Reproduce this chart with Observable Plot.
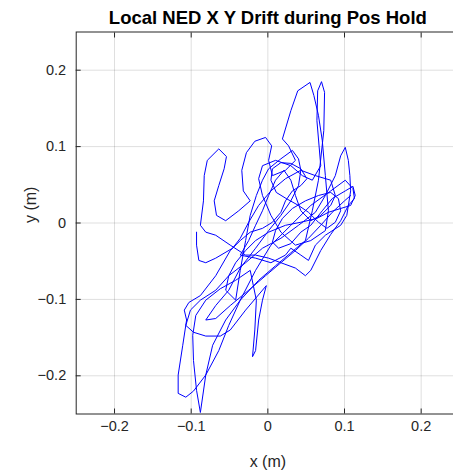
<!DOCTYPE html>
<html>
<head>
<meta charset="utf-8">
<script src="https://cdn.jsdelivr.net/npm/d3@7"></script>
<script src="https://cdn.jsdelivr.net/npm/@observablehq/plot@0.6"></script>
<style>
  html, body { margin: 0; padding: 0; background: #fff; overflow: hidden; }
  svg { display: block; max-width: none !important; }
</style>
</head>
<body>
<div id="chart"></div>
<script>
const titleText = "Local NED X Y Drift during Pos Hold";
const xLabel = "x (m)";
const yLabel = "y (m)";
const tickValues = [-0.2, -0.1, 0, 0.1, 0.2];
const axisDomain = [-0.25, 0.25];

const xPos = [
  0.108,0.100,0.084,0.069,0.053,0.036,0.017,-0.003,-0.025,-0.049,-0.068,
  -0.081,-0.068,-0.051,-0.036,-0.016,0.001,0.017,0.030,0.040,
  0.043,0.040,0.032,0.017,0.001,-0.007,-0.015,-0.023,-0.029,-0.036,
  -0.042,-0.055,-0.051,-0.042,-0.029,-0.016,0.001,0.023,0.043,0.064,0.079,0.095,0.108,0.114,0.111,0.101,0.084,0.071,0.056,0.043,0.030,0.014,0.006,0.010,0.019,0.032,0.049,0.066,0.082,0.092,0.095,0.088,0.077,0.066,0.053,0.040,0.024,0.011,0.004,0.006,0.017,0.030,0.043,0.051,0.043,0.032,0.023,0.017,0.006,-0.007,-0.023,-0.036,
  -0.049,-0.068,-0.088,-0.103,-0.109,-0.106,-0.111,-0.117,-0.117,-0.107,-0.097,-0.081,-0.064,-0.051,-0.036,-0.016,0.004,0.030,0.056,0.082,0.101,
  0.111,0.113,0.105,0.095,0.082,0.069,0.056,0.049,0.036,0.017,0.001,-0.016,-0.029,
  -0.049,-0.068,-0.081,-0.088,-0.084,-0.083,-0.079,-0.064,-0.054,-0.057,-0.064,-0.070,-0.067,-0.055,-0.038,-0.023,
  -0.032,-0.034,-0.028,-0.017,-0.003,0.005,0.001,0.006,0.023,0.036,
  0.027,0.019,0.030,0.039,0.055,0.060,0.066,0.071,0.075,0.079,0.075,
  0.056,0.036,0.017,0.004,-0.007,-0.012,-0.007,0.010,0.030,0.045,0.058,0.069,
  0.064,0.065,0.070,0.074,0.073,0.066,0.058,0.049,
  0.030,0.010,-0.012,-0.036,-0.055,-0.072,-0.081,-0.088,-0.093,-0.097,-0.098,-0.094,-0.081,-0.062,-0.042,-0.023,
  -0.015,-0.017,-0.020,-0.016,-0.012,-0.007,-0.002,
  -0.029,-0.049,-0.062,-0.081,-0.097,-0.107,-0.101,-0.088,-0.068,-0.051,-0.029,-0.007,0.017,0.040,0.062,
  0.075,0.088,0.095,0.101,0.105,0.107,0.108,0.103,0.095,0.075,
  0.062,0.053,0.043,0.030,0.023,0.004,-0.016,-0.036,
  -0.025,-0.016,-0.007,0.001,0.010,0.021,0.030,0.036,0.043,0.056,0.069,0.082,0.088,0.082,0.062,0.043,0.023,0.004,-0.012,-0.025,-0.036,-0.046,
  -0.068,-0.081,-0.090,-0.093,-0.093
];
const yPos = [
  0.036,0.029,0.014,-0.003,-0.020,-0.036,-0.052,-0.069,-0.088,-0.108,-0.125,
  -0.127,-0.108,-0.088,-0.059,-0.033,-0.010,0.010,0.029,0.049,
  0.069,0.084,0.095,0.084,0.071,0.056,0.036,0.010,-0.023,-0.062,
  -0.101,-0.088,-0.069,-0.052,-0.036,-0.023,-0.012,-0.003,0.001,0.006,0.014,0.019,0.023,0.036,0.048,0.042,0.032,0.016,-0.003,-0.012,-0.027,-0.033,-0.025,-0.010,0.006,0.019,0.029,0.036,0.040,0.032,0.016,0.001,-0.007,0.001,0.014,0.023,0.032,0.040,0.056,0.071,0.079,0.078,0.071,0.058,0.049,0.042,0.029,0.014,0.001,-0.007,-0.012,-0.023,
  -0.036,-0.069,-0.095,-0.104,-0.114,-0.127,-0.160,-0.199,-0.223,-0.228,-0.220,-0.199,-0.167,-0.134,-0.101,-0.062,-0.029,-0.003,0.023,0.042,0.056,
  0.045,0.032,0.023,0.003,-0.015,-0.036,-0.062,-0.069,-0.059,-0.052,-0.046,-0.042,-0.042,
  -0.029,-0.016,-0.012,-0.003,0.029,0.062,0.082,0.097,0.087,0.071,0.049,0.029,0.010,0.003,0.016,0.029,
  0.042,0.069,0.092,0.107,0.112,0.101,0.082,0.062,0.069,0.082,
  0.101,0.110,0.147,0.173,0.184,0.167,0.141,0.108,0.062,0.016,-0.010,
  -0.023,-0.029,-0.012,0.010,0.036,0.058,0.075,0.082,0.075,0.062,0.056,0.075,
  0.134,0.173,0.185,0.171,0.121,0.056,0.016,-0.023,
  -0.039,-0.056,-0.075,-0.101,-0.127,-0.160,-0.199,-0.248,-0.219,-0.180,-0.147,-0.121,-0.101,-0.086,-0.075,-0.062,
  -0.101,-0.140,-0.175,-0.167,-0.127,-0.101,-0.082,
  -0.114,-0.140,-0.148,-0.148,-0.143,-0.134,-0.114,-0.101,-0.088,-0.069,-0.052,-0.033,-0.020,-0.003,0.014,
  0.036,0.062,0.088,0.099,0.082,0.062,0.042,0.010,-0.003,-0.016,
  -0.029,-0.049,-0.042,-0.033,-0.042,-0.052,-0.046,-0.042,
  -0.023,-0.003,0.016,0.036,0.056,0.069,0.056,0.036,0.016,0.003,0.010,0.023,0.036,0.056,0.062,0.069,0.058,0.042,0.023,0.001,-0.020,-0.033,
  -0.046,-0.052,-0.049,-0.029,-0.012
];

const track = xPos.map((x, i) => ({x, y: yPos[i]}));
const axisColor = "#262626";
const font = "'Liberation Sans', Arial, Helvetica, sans-serif";
const fmt = d => d === 0 ? "0" : (d < 0 ? "\u2212" : "") + Math.abs(d);

const chart = Plot.plot({
  width: 460,
  height: 475,
  marginLeft: 75.7,
  marginRight: 1,
  marginTop: 31.5,
  marginBottom: 61.5,
  style: {fontFamily: font, fontSize: "14px", color: axisColor, background: "#fff", maxWidth: "none"},
  x: {domain: axisDomain, ticks: tickValues},
  y: {domain: axisDomain, ticks: tickValues},
  marks: [
    Plot.gridX(tickValues, {stroke: "#000", strokeOpacity: 0.13, strokeWidth: 1}),
    Plot.gridY(tickValues, {stroke: "#000", strokeOpacity: 0.13, strokeWidth: 1}),
    Plot.line(track, {x: "x", y: "y", stroke: "#0000ff", strokeWidth: 1, strokeLinejoin: "round"}),
    Plot.frame({stroke: axisColor, strokeWidth: 1}),
    Plot.axisX(tickValues, {anchor: "bottom", tickSize: -5, text: null, stroke: axisColor, label: null}),
    Plot.axisX(tickValues, {anchor: "top", tickSize: -5, text: null, stroke: axisColor, label: null}),
    Plot.axisY(tickValues, {anchor: "left", tickSize: -5, text: null, stroke: axisColor, label: null}),
    Plot.axisY(tickValues, {anchor: "right", tickSize: -5, text: null, stroke: axisColor, label: null}),
    Plot.axisX(tickValues, {anchor: "bottom", tickSize: 0, tickPadding: 7, fontSize: 14.5, fill: axisColor, label: null, tickFormat: fmt}),
    Plot.axisY(tickValues, {anchor: "left", tickSize: 0, tickPadding: 10, fontSize: 14.5, fill: axisColor, label: null, tickFormat: fmt}),
    Plot.text([titleText], {frameAnchor: "top", lineAnchor: "bottom", dy: -8, fontSize: 18.5, fontWeight: "bold", fill: "#000"}),
    Plot.text([xLabel], {frameAnchor: "bottom", lineAnchor: "bottom", dy: 53, fontSize: 16, fill: axisColor}),
    Plot.text([yLabel], {frameAnchor: "left", rotate: -90, dx: -45, fontSize: 16, fill: axisColor})
  ]
});
document.getElementById("chart").appendChild(chart);
</script>
</body>
</html>
